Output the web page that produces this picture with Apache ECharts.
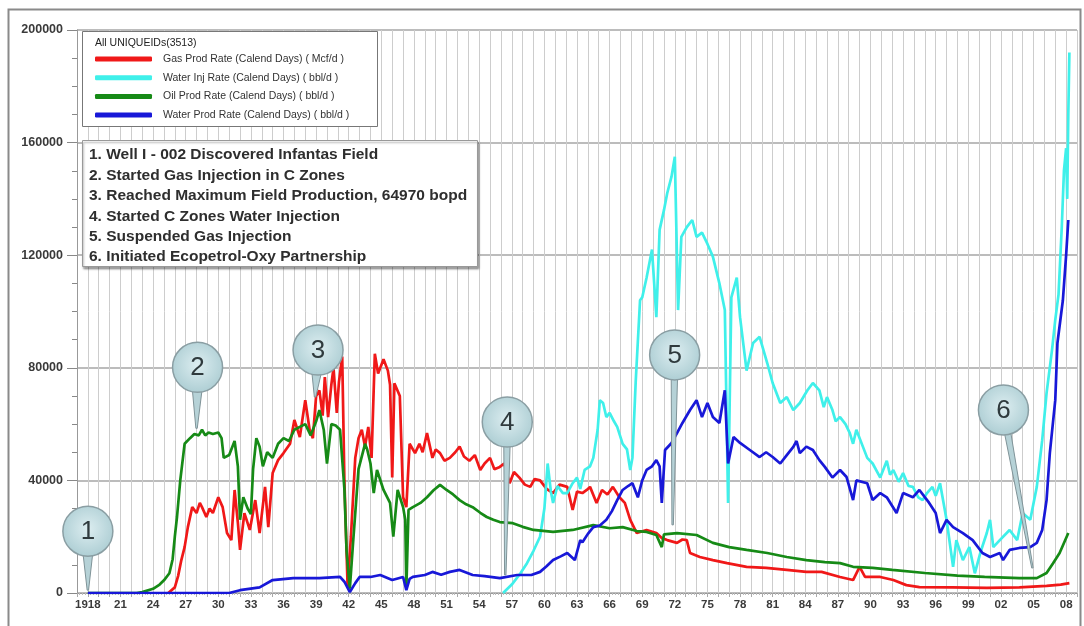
<!DOCTYPE html>
<html><head><meta charset="utf-8">
<script src="https://cdn.jsdelivr.net/npm/echarts@6/dist/echarts.min.js"></script>
<style>html,body{margin:0;padding:0;background:#fff}#c{width:1084px;height:626px}</style>
</head><body><div id="c"></div>
<script>
const seriesNames = [
  'Gas Prod Rate (Calend Days) ( Mcf/d )',
  'Water Inj Rate (Calend Days) ( bbl/d )',
  'Oil Prod Rate (Calend Days) ( bbl/d )',
  'Water Prod Rate (Calend Days) ( bbl/d )'
];
const legendTitle = 'All UNIQUEIDs(3513)';

const gasProd = [[1925.4,0],[1926.0,2000],[1926.3,6000],[1926.6,11700],[1926.9,16300],[1927.2,23400],[1927.6,30500],[1928.0,28400],[1928.3,32000],[1928.5,30500],[1928.9,27000],[1929.2,30000],[1929.5,28400],[1930.0,34000],[1930.4,30500],[1930.8,21300],[1931.2,18800],[1931.5,36600],[1931.8,25000],[1932.0,15300],[1932.4,28400],[1932.9,22400],[1933.4,33000],[1933.8,21300],[1934.3,37700],[1934.6,23400],[1935.0,42600],[1935.5,47200],[1936.0,49700],[1936.6,53000],[1937.0,61500],[1937.5,55400],[1938.0,68500],[1938.4,58000],[1938.7,55000],[1939.0,70000],[1939.3,72000],[1939.6,63000],[1939.8,76700],[1940.1,62500],[1940.4,74000],[1940.6,80000],[1940.9,64000],[1941.1,75000],[1941.4,84000],[1941.6,40000],[1941.9,2000],[1942.2,20000],[1942.6,48000],[1942.9,55000],[1943.2,58000],[1943.5,52000],[1943.8,59000],[1944.1,48000],[1944.4,85000],[1944.7,78000],[1945.0,81000],[1945.2,83000],[1945.6,79000],[1945.8,74000],[1946.0,41000],[1946.2,74500],[1946.7,70000],[1947.0,34000],[1947.3,30500],[1947.6,53000],[1948.1,49700],[1948.5,53000],[1948.8,50000],[1949.2,56800],[1949.7,48000],[1950.0,51000],[1950.4,49700],[1950.8,47000],[1951.3,48000],[1951.8,50000],[1952.2,52000],[1952.6,48500],[1953.1,47000],[1953.6,49000],[1954.1,43700],[1954.5,46000],[1955.0,48000],[1955.4,44000],[1955.9,44800],[1956.3,46000],[1956.8,39000],[1957.2,43000],[1957.7,41000],[1958.2,38500],[1958.7,37700],[1959.1,40500],[1959.6,40000],[1960.2,37000],[1960.8,35500],[1961.4,38500],[1962.1,37700],[1962.6,29500],[1963.0,36000],[1963.5,35500],[1963.9,36600],[1964.2,37700],[1964.8,32000],[1965.3,36600],[1965.8,35000],[1966.3,37700],[1966.9,34000],[1967.4,32000],[1967.9,26000],[1968.5,21300],[1969.4,22400],[1970.3,21300],[1970.8,19500],[1971.3,18800],[1972.2,17800],[1972.7,19000],[1973.1,18800],[1973.4,14200],[1974.3,12800],[1975.5,11700],[1976.8,10600],[1978.6,9300],[1980.4,8900],[1982.3,8200],[1984.1,7500],[1985.5,7500],[1987.2,5700],[1988.4,4600],[1989.0,9300],[1989.5,5700],[1990.9,5700],[1992.1,4600],[1993.3,2800],[1994.5,2100],[1997.5,2000],[2000.7,1800],[2003.7,2000],[2006.2,2500],[2007.5,3000],[2008.3,3500]];

const waterInj = [[1956.2,0],[1957.0,3000],[1957.8,7000],[1958.4,10600],[1959.0,15000],[1959.6,20000],[1960.0,30000],[1960.3,46000],[1960.6,36000],[1960.8,32000],[1961.2,38000],[1961.7,35500],[1962.1,35500],[1962.6,39000],[1963.0,41000],[1963.3,37000],[1963.7,43700],[1964.2,45000],[1964.5,48000],[1964.9,58000],[1965.1,68500],[1965.4,67500],[1965.7,62500],[1966.0,64000],[1966.4,61000],[1966.7,59000],[1967.2,53000],[1967.6,51000],[1967.9,43700],[1968.1,48000],[1968.4,75000],[1968.8,104000],[1969.0,105000],[1969.4,112000],[1969.9,122000],[1970.3,98000],[1970.6,129000],[1971.0,136000],[1971.3,142000],[1971.7,148000],[1972.0,155000],[1972.3,100500],[1972.6,126500],[1973.1,130000],[1973.6,132500],[1974.0,126500],[1974.5,128000],[1975.0,124000],[1975.5,119500],[1976.1,110000],[1976.6,100500],[1976.9,32000],[1977.2,105000],[1977.7,112000],[1978.0,98000],[1978.6,79000],[1979.2,88800],[1979.8,91000],[1980.5,81700],[1981.0,74600],[1981.7,67500],[1982.3,69600],[1982.9,65000],[1983.5,67500],[1984.2,72000],[1984.7,74600],[1985.3,72000],[1985.7,66000],[1986.0,69600],[1986.5,65000],[1986.8,61000],[1987.2,62500],[1987.7,60000],[1988.1,56800],[1988.4,53000],[1988.7,58000],[1989.3,52000],[1989.7,48000],[1990.2,46000],[1990.9,41000],[1991.5,47000],[1991.8,42000],[1992.1,43700],[1992.6,39500],[1993.0,42600],[1993.5,38000],[1993.9,37700],[1994.4,34000],[1994.8,33000],[1995.2,35500],[1995.7,37700],[1996.0,34500],[1996.4,39000],[1997.0,26000],[1997.6,9300],[1997.9,18800],[1998.5,11700],[1999.1,16300],[1999.6,7000],[2000.1,14200],[2000.7,21300],[2001.0,26000],[2001.3,16300],[2001.9,18800],[2002.8,22400],[2003.5,18800],[2004.0,28400],[2004.7,26000],[2005.3,37700],[2005.8,54300],[2006.2,71000],[2006.7,86300],[2007.0,97000],[2007.3,106000],[2007.6,130000],[2007.8,150000],[2008.0,158000],[2008.1,140000],[2008.2,170000],[2008.3,192000]];

const oilProd = [[1918,0],[1922.5,0],[1923.0,300],[1924.0,1500],[1924.6,3000],[1925.0,4500],[1925.5,7000],[1925.8,12000],[1926.0,20000],[1926.2,27000],[1926.5,40000],[1926.9,53000],[1927.4,55000],[1927.8,56500],[1928.2,56000],[1928.5,58000],[1928.8,56000],[1929.1,57000],[1929.5,56500],[1930.0,57000],[1930.3,55000],[1930.5,48000],[1931.0,49000],[1931.5,54000],[1931.8,45000],[1932.0,26000],[1932.3,34000],[1932.7,30000],[1933.0,28000],[1933.2,44000],[1933.5,55000],[1933.8,52000],[1934.1,45000],[1934.5,50000],[1935.0,48000],[1935.5,53000],[1936.0,55000],[1936.5,54000],[1937.0,58000],[1937.5,59000],[1938.0,60000],[1938.5,56000],[1939.0,61000],[1939.3,64970],[1939.7,58000],[1940.0,46000],[1940.4,60000],[1940.8,59500],[1941.2,58000],[1941.6,37000],[1941.8,15000],[1942.1,1500],[1942.4,18000],[1942.9,44000],[1943.5,53000],[1943.7,51000],[1944.0,46000],[1944.3,35500],[1944.6,43700],[1945.2,36600],[1945.8,32000],[1946.1,20000],[1946.5,36600],[1947.0,30500],[1947.2,26000],[1947.3,1500],[1947.5,29500],[1947.9,30500],[1948.6,32000],[1949.2,34000],[1949.8,36500],[1950.4,38400],[1951.0,36600],[1951.6,35000],[1952.2,33000],[1952.8,31500],[1953.4,30500],[1954.1,28500],[1954.7,27000],[1955.3,26000],[1955.9,25200],[1957.1,24800],[1958.0,23500],[1959.0,22400],[1960.8,21700],[1962.6,22400],[1964.5,24100],[1966.0,23000],[1967.2,23400],[1968.5,22000],[1969.4,21700],[1970.3,20600],[1970.8,16300],[1971.0,20800],[1972.2,21300],[1974.0,20600],[1975.5,17800],[1977.0,16300],[1978.6,15300],[1980.5,14200],[1982.3,12800],[1984.1,11700],[1985.8,11000],[1987.2,10600],[1988.4,9300],[1990.2,8900],[1992.0,8200],[1995.0,7100],[1998.0,6200],[2000.5,5700],[2003.7,5300],[2005.3,5300],[2006.2,7100],[2006.8,10600],[2007.4,14200],[2008.2,21300]];

const waterProd = [[1918,0],[1931,0],[1932.0,1000],[1933.8,2000],[1935.0,4600],[1936.9,5300],[1939.3,5300],[1941.2,5700],[1941.6,4000],[1942.1,300],[1942.6,3500],[1943.0,5700],[1944.0,5700],[1944.9,6400],[1946.0,4600],[1947.0,5700],[1947.3,1000],[1947.6,5000],[1947.9,5700],[1949.0,6400],[1949.7,7500],[1950.5,6500],[1951.3,7500],[1952.2,8200],[1953.4,6400],[1954.5,6000],[1955.9,5300],[1957.5,6400],[1958.8,6400],[1959.6,7500],[1960.2,9500],[1960.8,11700],[1961.5,13000],[1962.1,14200],[1962.8,11700],[1963.3,18800],[1963.5,18000],[1964.0,21000],[1964.5,23400],[1965.1,24000],[1965.7,26000],[1966.2,29000],[1966.7,33000],[1967.2,36600],[1967.7,38000],[1968.1,39000],[1968.6,34000],[1969.0,40000],[1969.4,43700],[1969.9,45000],[1970.3,47200],[1970.6,45000],[1970.8,32000],[1971.1,50800],[1971.7,53300],[1972.2,56800],[1972.7,60400],[1973.4,65000],[1974.0,68500],[1974.5,62500],[1975.0,67500],[1975.5,62500],[1976.1,60400],[1976.6,72000],[1976.9,46000],[1977.4,55400],[1978.0,53300],[1978.9,50800],[1979.8,48300],[1980.4,50000],[1981.0,48300],[1981.7,46000],[1982.3,49000],[1982.9,51900],[1983.2,54000],[1983.5,49700],[1984.1,52000],[1984.7,50800],[1985.3,47200],[1985.8,44800],[1986.5,41000],[1987.2,43700],[1987.8,41200],[1988.4,33000],[1988.7,40000],[1989.7,39000],[1990.2,33000],[1990.9,35500],[1991.5,34000],[1992.4,28400],[1993.0,35500],[1993.9,34000],[1994.5,36600],[1995.4,32000],[1996.0,28400],[1996.4,21300],[1997.0,26000],[1997.6,23400],[1998.5,21300],[1999.4,18800],[2000.3,14200],[2001.0,12800],[2001.9,14200],[2002.2,11700],[2002.8,15300],[2003.7,16000],[2004.7,16300],[2005.3,17800],[2005.8,22400],[2006.2,33000],[2006.5,49700],[2007.0,68500],[2007.2,88800],[2007.7,104000],[2008.0,120000],[2008.2,132500]];

const eventNotes = [
  '1. Well I - 002 Discovered Infantas Field',
  '2. Started Gas Injection in C Zones',
  '3. Reached Maximum Field Production, 64970 bopd',
  '4. Started C Zones Water Injection',
  '5. Suspended Gas Injection',
  '6. Initiated Ecopetrol-Oxy Partnership'
];
const balloonLabels = ['1','2','3','4','5','6'];
const balloonTips = [[1918.0,1000],[1928.0,58500],[1938.9,69600],[1956.4,6400],[1971.8,24200],[2004.9,8900]];

// layout only (pixel offsets of balloon heads from their tips)
const balloonHeadOffsets = [[0,-59],[1,-61],[3,-47],[2,-153],[2,-170],[-29,-158]];
const colors = ['#f01818','#3ff0ea','#168a16','#1818d8'];
const allSeries = [gasProd, waterInj, oilProd, waterProd];

const chart = echarts.init(document.getElementById('c'), null, {renderer:'canvas'});
const fam = '"Liberation Sans", Arial, sans-serif';

const option = {
  animation: false,
  backgroundColor: '#fff',
  grid: {left: 77, right: 7, top: 30, bottom: 33, containLabel: false},
  xAxis: {
    type: 'value', min: 1917, max: 2009, interval: 1,
    axisLine: {show: true, lineStyle: {color: '#999', width: 1}},
    axisTick: {show: true, length: 4, lineStyle: {color: '#aaa'}},
    minorTick: {show: true, splitNumber: 4, length: 2, lineStyle: {color: '#bbb'}},
    splitLine: {show: true, lineStyle: {color: '#cdcdcd', width: 1}},
    axisLabel: {
      margin: 6, fontSize: 11.5, fontWeight: 'bold', color: '#3a3a3a', fontFamily: fam,
      formatter: function (v) {
        if (v === 1918) return '1918';
        if (v > 1918 && (v - 1918) % 3 === 0) return String(v % 100).padStart(2, '0');
        return '';
      }
    }
  },
  yAxis: {
    type: 'value', min: 0, max: 200000, interval: 40000,
    axisLine: {show: true, lineStyle: {color: '#999'}},
    axisTick: {show: true, length: 10, lineStyle: {color: '#888'}},
    minorTick: {show: true, splitNumber: 4, length: 5, lineStyle: {color: '#888'}},
    splitLine: {show: true, lineStyle: {color: '#a6a6a6', width: 1.5}},
    axisLabel: {margin: 14, fontSize: 12.5, fontWeight: 'bold', color: '#3a3a3a', fontFamily: fam,
      formatter: function (v) { return String(v); }}
  },
  legend: {
    show: true, orient: 'vertical', left: 95, top: 53, padding: 0, z: 20,
    icon: 'roundRect', itemWidth: 57, itemHeight: 5, itemGap: 6.7,
    data: seriesNames,
    textStyle: {fontSize: 10.5, lineHeight: 12, color: '#333', fontFamily: fam, padding: [0,0,0,6]}
  },
  series: seriesNames.map((n, i) => ({
    name: n, type: 'line', data: allSeries[i], showSymbol: false, symbol: 'none',
    lineStyle: {width: 2.7, color: colors[i]}, itemStyle: {color: colors[i]},
    z: 2 + i * 0.1
  }))
};
chart.setOption(option);

const graphics = [
  {type: 'rect', z: 30, silent: true, shape: {x: 8.5, y: 9.5, width: 1072, height: 640},
   style: {fill: 'none', stroke: '#8a8a8a', lineWidth: 2}},
  {type: 'rect', z: 15, silent: true, shape: {x: 82.5, y: 31.5, width: 295, height: 95},
   style: {fill: '#fff', stroke: '#777', lineWidth: 1}},
  {type: 'text', z: 16, silent: true, style: {x: 95, y: 43, text: legendTitle, fill: '#222',
   font: '10.5px ' + fam, verticalAlign: 'middle'}},
  {type: 'rect', z: 15, silent: true, shape: {x: 82.5, y: 140.5, width: 395, height: 126},
   style: {fill: '#fff', stroke: '#999', lineWidth: 1, shadowColor: 'rgba(0,0,0,0.35)', shadowOffsetX: 1, shadowOffsetY: 2, shadowBlur: 2}},
  {type: 'text', z: 16, silent: true, style: {x: 89, y: 145, text: eventNotes.join('\n'), fill: '#2e2e2e',
   font: 'bold 15.5px ' + fam, lineHeight: 20.4}}
];

balloonTips.forEach((tip, i) => {
  const p = chart.convertToPixel({gridIndex: 0}, tip);
  const cx = p[0] + balloonHeadOffsets[i][0];
  const cy = p[1] + balloonHeadOffsets[i][1];
  const r = 25;
  const hw = Math.abs(balloonHeadOffsets[i][1]) > 100 ? 3.2 : 5;
  const ang = Math.atan2(p[1] - cy, p[0] - cx);
  const nx = -Math.sin(ang), ny = Math.cos(ang);
  const bx = cx + Math.cos(ang) * (r - 4), by = cy + Math.sin(ang) * (r - 4);
  const fill = new echarts.graphic.RadialGradient(0.5, 0.45, 0.6, [
    {offset: 0, color: '#dcedf0'}, {offset: 1, color: '#a9cbd1'}]);
  graphics.push({
    type: 'polygon', z: 10, silent: true,
    shape: {points: [[bx + nx * hw, by + ny * hw], [bx - nx * hw, by - ny * hw], [p[0] - nx * 0.7, p[1] - ny * 0.7], [p[0] + nx * 0.7, p[1] + ny * 0.7]]},
    style: {fill: '#b6d2d7', stroke: '#7f9398', lineWidth: 1}
  });
  graphics.push({
    type: 'circle', z: 11, silent: true, shape: {cx: cx, cy: cy, r: r},
    style: {fill: fill, stroke: '#8a9ea3', lineWidth: 1.5}
  });
  graphics.push({
    type: 'text', z: 12, silent: true,
    style: {x: cx, y: cy + 1, text: balloonLabels[i], fill: '#2f3a3d', font: '26px ' + fam, align: 'center', verticalAlign: 'middle'}
  });
});
chart.setOption({graphic: graphics});
</script></body></html>
